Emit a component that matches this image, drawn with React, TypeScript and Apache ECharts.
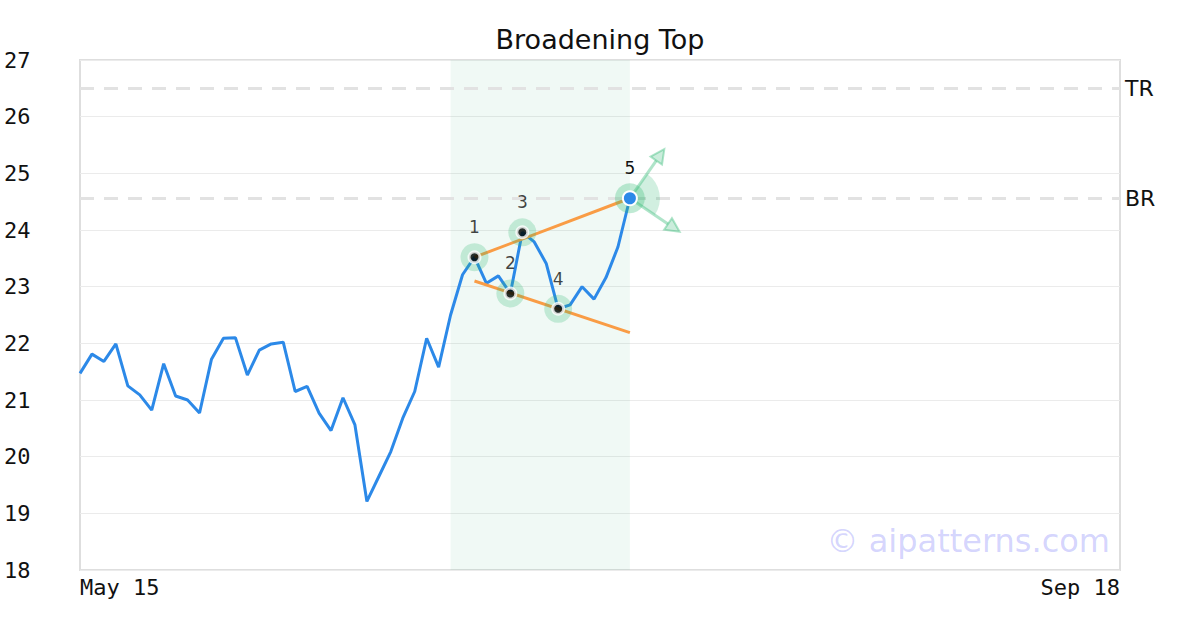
import React, { useEffect, useRef } from "react";
import * as echarts from "echarts";

// ---------- data ----------
const START_DATE = "2024-05-15";
const END_DATE = "2024-09-18";
const HOLIDAYS = ["2024-05-27", "2024-07-04", "2024-09-02"];
const MONTHS = ["Jan", "Feb", "Mar", "Apr", "May", "Jun", "Jul", "Aug", "Sep", "Oct", "Nov", "Dec"];

function buildCategories(): string[] {
  const out: string[] = [];
  const d = new Date(START_DATE + "T00:00:00Z");
  const end = new Date(END_DATE + "T00:00:00Z");
  while (d.getTime() <= end.getTime()) {
    const iso = d.toISOString().slice(0, 10);
    const wd = d.getUTCDay();
    if (wd !== 0 && wd !== 6 && HOLIDAYS.indexOf(iso) < 0) {
      out.push(MONTHS[d.getUTCMonth()] + " " + d.getUTCDate());
    }
    d.setUTCDate(d.getUTCDate() + 1);
  }
  return out;
}
const categories = buildCategories();

const prices = [
  21.47, 21.81, 21.68, 21.99, 21.25, 21.09, 20.82, 21.64, 21.07, 21.0,
  20.77, 21.72, 22.09, 22.1, 21.44, 21.88, 21.99, 22.02, 21.15, 21.24,
  20.77, 20.46, 21.04, 20.56, 19.21, 19.65, 20.09, 20.68, 21.15, 22.09,
  21.58, 22.5, 23.21, 23.52, 23.06, 23.19, 22.88, 23.96, 23.79, 23.41,
  22.61, 22.68, 23.0, 22.78, 23.16, 23.7, 24.56,
];

const pivotIndex = [33, 36, 37, 40];
const pivotLabels = ["1", "2", "3", "4"];
const breakoutIndex = 46;
const breakoutLabel = "5";

const upperTrend = [[33, 23.52], [46, 24.56]];
const lowerTrend = [[33, 23.1], [46, 22.19]];

const levelTR = 26.5;
const levelBR = 24.56;
const patternRange = [31, 46];

const yTicks = [18, 19, 20, 21, 22, 23, 24, 25, 26, 27];

// ---------- styles ----------
const BLUE = "#2c89e8";
const ORANGE = "#f99c45";
const GREEN_HALO = "rgba(46,184,114,0.3)";
const GREEN_ARROW = "rgba(46,184,114,0.38)";

export default function App() {
  const ref = useRef<HTMLDivElement>(null);

  useEffect(() => {
    if (!ref.current) return;
    const chart = echarts.init(ref.current, undefined, { renderer: "svg" });
    const last = categories.length - 1;

    const pivotData = pivotIndex.map((i, k) => ({ value: [i, prices[i]], name: pivotLabels[k] }));

    const option: any = {
      animation: false,
      backgroundColor: "#ffffff",
      title: {
        text: "Broadening Top",
        left: "center",
        top: 21,
        textStyle: { fontFamily: "DejaVu Sans", fontSize: 27, fontWeight: "normal", color: "#111" },
      },
      grid: {
        left: 80,
        right: 80,
        top: 60,
        bottom: 60,
        show: true,
        borderColor: "#dedede",
        borderWidth: 2,
        backgroundColor: "transparent",
      },
      xAxis: {
        type: "category",
        data: categories,
        boundaryGap: false,
        axisLine: { show: false },
        axisTick: { show: false },
        splitLine: { show: false },
        axisLabel: {
          interval: (idx: number) => idx === 0 || idx === last,
          showMinLabel: true,
          showMaxLabel: true,
          alignMinLabel: "left",
          alignMaxLabel: "right",
          fontFamily: "DejaVu Sans Mono",
          fontSize: 22,
          color: "#111",
          margin: 6,
        },
      },
      yAxis: {
        type: "value",
        min: yTicks[0],
        max: yTicks[yTicks.length - 1],
        interval: 1,
        axisLine: { show: false },
        axisTick: { show: false },
        splitLine: { show: true, lineStyle: { color: "#ebebeb", width: 1 } },
        axisLabel: {
          fontFamily: "DejaVu Sans Mono",
          fontSize: 22,
          color: "#111",
          align: "left",
          margin: 76,
        },
      },
      graphic: [
        {
          type: "text",
          right: 90,
          top: 525,
          z: 1,
          style: {
            text: "© aipatterns.com",
            font: "32px DejaVu Sans",
            fill: "rgba(110,110,250,0.3)",
          },
        },
      ],
      series: [
        {
          type: "line",
          data: prices,
          symbol: "none",
          lineStyle: { color: BLUE, width: 3 },
          z: 3,
          markArea: {
            silent: true,
            itemStyle: { color: "rgba(60,180,130,0.08)" },
            data: [[{ xAxis: patternRange[0] }, { xAxis: patternRange[1] }]],
          },
          markLine: {
            silent: true,
            symbol: ["none", "none"],
            lineStyle: { color: "#e2e2e2", width: 3, type: [14, 10] },
            label: {
              show: true,
              position: "end",
              distance: 5,
              formatter: "{b}",
              fontFamily: "DejaVu Sans",
              fontSize: 22,
              color: "#111",
            },
            data: [
              { name: "TR", yAxis: levelTR },
              { name: "BR", yAxis: levelBR },
            ],
          },
        },
        {
          type: "line",
          data: upperTrend,
          symbol: "none",
          lineStyle: { color: ORANGE, width: 3 },
          z: 4,
        },
        {
          type: "line",
          data: lowerTrend,
          symbol: "none",
          lineStyle: { color: ORANGE, width: 3 },
          z: 4,
        },
        {
          type: "scatter",
          data: pivotData,
          symbol: "circle",
          symbolSize: 28,
          itemStyle: { color: GREEN_HALO },
          z: 5,
          silent: true,
        },
        {
          type: "scatter",
          data: pivotData,
          symbol: "circle",
          symbolSize: 11,
          itemStyle: { color: "#000", borderColor: "#fff", borderWidth: 3 },
          z: 6,
          silent: true,
          label: {
            show: true,
            position: "inside",
            offset: [0, -30],
            formatter: "{b}",
            fontFamily: "DejaVu Sans",
            fontSize: 17,
            color: "#111",
          },
        },
        {
          type: "custom",
          z: 7,
          silent: true,
          data: [[breakoutIndex, prices[breakoutIndex]]],
          renderItem: (params: any, api: any) => {
            const p = api.coord([api.value(0), api.value(1)]);
            const cx = p[0];
            const cy = p[1];
            const angles = [(-55 * Math.PI) / 180, (34 * Math.PI) / 180];
            const L = 60;
            const head = 14;
            const half = 7;
            const children: any[] = [
              {
                type: "sector",
                shape: { cx, cy, r0: 0, r: 30, startAngle: angles[0], endAngle: angles[1], clockwise: true },
                style: { fill: "rgba(46,184,114,0.22)" },
              },
              {
                type: "circle",
                shape: { cx, cy, r: 15 },
                style: { fill: GREEN_HALO },
              },
            ];
            angles.forEach((a) => {
              const ux = Math.cos(a);
              const uy = Math.sin(a);
              const tx = cx + ux * L;
              const ty = cy + uy * L;
              const bx = tx - ux * head;
              const by = ty - uy * head;
              children.push({
                type: "line",
                shape: { x1: cx, y1: cy, x2: bx, y2: by },
                style: { stroke: GREEN_ARROW, lineWidth: 3 },
              });
              children.push({
                type: "polygon",
                shape: {
                  points: [
                    [tx, ty],
                    [bx - uy * half, by + ux * half],
                    [bx + uy * half, by - ux * half],
                  ],
                },
                style: { fill: "rgba(46,184,114,0.25)", stroke: GREEN_ARROW, lineWidth: 2 },
              });
            });
            children.push({
              type: "circle",
              shape: { cx, cy, r: 7 },
              style: { fill: BLUE, stroke: "#fff", lineWidth: 2 },
            });
            children.push({
              type: "text",
              style: {
                text: breakoutLabel,
                x: cx,
                y: cy - 30,
                align: "center",
                verticalAlign: "middle",
                font: "17px DejaVu Sans",
                fill: "#111",
              },
            });
            return { type: "group", children };
          },
        },
      ],
    };

    chart.setOption(option);
    return () => chart.dispose();
  }, []);

  return (
    <div
      ref={ref}
      style={{ position: "fixed", left: 0, top: 0, width: 1200, height: 630, background: "#fff" }}
    />
  );
}
